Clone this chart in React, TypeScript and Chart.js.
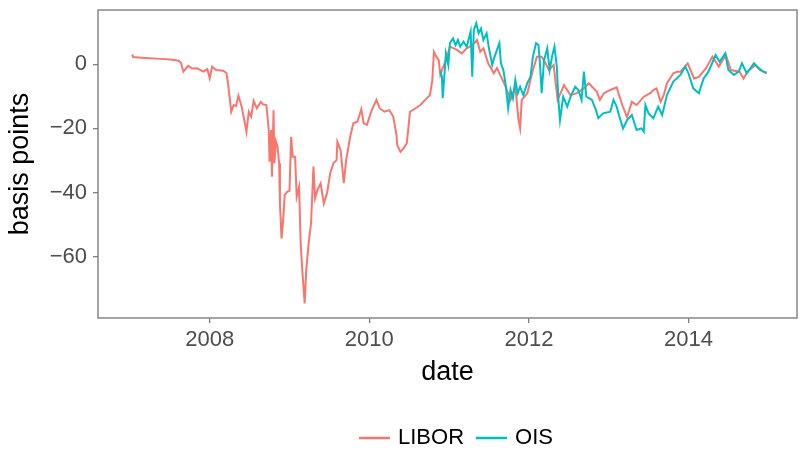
import React, { useEffect, useRef } from "react";
import { Chart, registerables } from "chart.js";

Chart.register(...registerables);

const liborDates = [
  2007.03, 2007.04, 2007.19, 2007.38, 2007.51, 2007.61, 2007.64, 2007.67, 2007.73, 2007.78,
  2007.84, 2007.92, 2007.97, 2008.0, 2008.03, 2008.08, 2008.17, 2008.21, 2008.23, 2008.27,
  2008.3, 2008.33, 2008.36, 2008.4, 2008.43, 2008.46, 2008.49, 2008.52, 2008.55, 2008.59,
  2008.64, 2008.67, 2008.71, 2008.74, 2008.75, 2008.77, 2008.78, 2008.8, 2008.81, 2008.83,
  2008.85, 2008.87, 2008.88, 2008.9, 2008.92, 2008.94, 2008.97, 2009.0, 2009.02, 2009.04,
  2009.07, 2009.09, 2009.12, 2009.14, 2009.16, 2009.19, 2009.21, 2009.24, 2009.27, 2009.3,
  2009.32, 2009.35, 2009.39, 2009.43, 2009.47, 2009.51, 2009.55, 2009.59, 2009.6, 2009.64,
  2009.68, 2009.71, 2009.76, 2009.8, 2009.85, 2009.9, 2009.93, 2009.97, 2010.03, 2010.09,
  2010.13, 2010.19, 2010.25, 2010.3, 2010.34, 2010.35, 2010.39, 2010.43, 2010.47, 2010.51,
  2010.58, 2010.64, 2010.7, 2010.76, 2010.79, 2010.81, 2010.84, 2010.87, 2010.89, 2010.91,
  2010.97, 2011.01, 2011.1, 2011.16, 2011.22, 2011.29, 2011.35, 2011.39, 2011.43, 2011.49,
  2011.56, 2011.6, 2011.64, 2011.7, 2011.77, 2011.83, 2011.87, 2011.89, 2011.91, 2011.98,
  2012.04, 2012.1, 2012.16, 2012.21, 2012.25, 2012.31, 2012.36, 2012.44, 2012.48, 2012.52,
  2012.6, 2012.69, 2012.75, 2012.85, 2012.89, 2012.94, 2013.02, 2013.1, 2013.17, 2013.23,
  2013.29, 2013.35, 2013.44, 2013.52, 2013.56, 2013.6, 2013.65, 2013.69, 2013.73, 2013.81,
  2013.86, 2013.9, 2013.99, 2014.07, 2014.13, 2014.22, 2014.3, 2014.38, 2014.47, 2014.53,
  2014.64, 2014.69, 2014.74, 2014.84, 2014.9, 2014.98,
];
const liborBasisPoints = [
  3.1, 2.3, 2.0, 1.7, 1.5, 1.1, 0.5, -2.3, -0.5, -1.3,
  -1.2, -2.3, -1.5, -4.3, -0.7, -1.8, -2.0, -2.7, -6, -14.8,
  -12.7, -13, -9.8, -13.2, -17, -21, -14.8, -16.3, -11.4, -13.7,
  -11.7, -12.5, -12.7, -20.5, -30.4, -20.5, -35.1, -14.3, -30.9, -24,
  -25.7, -30.9, -43.4, -54.3, -48.6, -40.8, -39.8, -39.5, -22.6, -28.8,
  -28.8, -41.3, -38.2, -55.8, -64.2, -74.6, -64.2, -55.8, -49.6, -31.9,
  -41.8, -39.2, -37.1, -43.4, -40.2, -34, -30.9, -29.9, -24.1, -26.7,
  -37.1, -29.9, -22.6, -18.4, -17.9, -14, -18.4, -18.9, -14.3, -11.1,
  -13.7, -14.8, -14.3, -16.3, -22, -25.2, -27.3, -26.2, -24.6, -14.8,
  -13.7, -12.7, -11.1, -9.6, -4.9, 3.9, 2.4, 1.3, -3.3, -1.8,
  1.9, 5.5, 4.5, 3.4, 5, 6, 7.6, 3.9, 5, 0.3,
  -2.8, -1.2, -3.3, -6.5, -11.1, -7, -17.4, -20, -11.1, -9,
  -2.8, 2.4, 2.4, 0.3, -1.8, -0.2, -11.1, -6.5, -8, -9.6,
  -9, -7.5, -5.9, -8.5, -11.1, -9, -8, -7.2, -12.7, -16.5,
  -11.7, -12.7, -10.1, -9, -8, -7.5, -11.7, -9.6, -5.9, -2.8,
  -2.3, -2.3, 0.3, -4.4, -3.9, -1.2, 2.4, -0.7, 2.9, -1.8,
  -2.3, -4.4, -2.3, -0.2, -1.8, -2.8,
];

const oisDates = [
  2010.89, 2010.91, 2010.92, 2010.94, 2010.96, 2010.99, 2011.01, 2011.05, 2011.08, 2011.11,
  2011.14, 2011.18, 2011.22, 2011.27, 2011.29, 2011.31, 2011.34, 2011.37, 2011.4, 2011.43,
  2011.47, 2011.5, 2011.54, 2011.57, 2011.6, 2011.63, 2011.65, 2011.68, 2011.71, 2011.74,
  2011.77, 2011.8, 2011.83, 2011.86, 2011.89, 2011.93, 2011.98, 2012.02, 2012.05, 2012.09,
  2012.12, 2012.14, 2012.16, 2012.19, 2012.23, 2012.26, 2012.29, 2012.32, 2012.35, 2012.37,
  2012.39, 2012.43, 2012.48, 2012.53, 2012.58, 2012.62, 2012.66, 2012.69, 2012.72, 2012.79,
  2012.84, 2012.87, 2012.93, 2013.02, 2013.06, 2013.1, 2013.14, 2013.18, 2013.23, 2013.29,
  2013.35, 2013.41, 2013.44, 2013.46, 2013.5, 2013.56, 2013.62, 2013.67, 2013.73, 2013.81,
  2013.9, 2013.96, 2014.0, 2014.06, 2014.13, 2014.19, 2014.25, 2014.34, 2014.39, 2014.46,
  2014.5, 2014.57, 2014.63, 2014.67, 2014.73, 2014.82, 2014.88, 2014.94, 2014.98,
];
const oisBasisPoints = [
  -2, -3.9, -10.6, -3.9, 3.4, -0.2, 6.6, 8.1, 6, 7.6,
  5.5, 7.1, 5.5, 10.2, -3.9, 10.7, 12.8, 9.7, 11.2, 7.6,
  9.7, 5, -0.2, 2.4, 4.5, 6.6, 0.3, -1.8, -6.5, -13.7,
  -8, -10.6, -4.9, -9, -7, -9.6, -5.9, -3.9, 2.4, 6.6,
  6, -0.2, -9, 1.3, 5, -1.8, 2.4, 5.5, -0.7, -11.1,
  -17.4, -10.1, -13.2, -9.6, -7, -8, -11.1, -2.3, -10.1, -11.1,
  -14.3, -16.8, -15.3, -14.8, -11.1, -13.2, -16.8, -20, -17.4, -15.8,
  -20.5, -20, -21, -12.7, -15.3, -16.8, -13.2, -15.8, -9.6, -5.4,
  -3.3, -0.7, -2.8, -7.5, -9, -4.4, -2.3, 2.9, 0.8, 3.4,
  -1.8, -3.3, -2.3, 0.3, -2.8, 0.3, -1.2, -2.3, -2.6,
];

const xTickYears = [2008, 2010, 2012, 2014];
const yTickValues = [-60, -40, -20, 0];
const seriesNames = ["LIBOR", "OIS"];
const seriesColors = ["#F8766D", "#00BFC4"];
const xAxisTitle = "date";
const yAxisTitle = "basis points";

const FONT = "'Liberation Sans', Arial, Helvetica, sans-serif";

export default function App() {
  const ref = useRef<HTMLCanvasElement | null>(null);

  useEffect(() => {
    document.body.style.margin = "0";
    const canvas = ref.current;
    if (!canvas) return;

    const framePlugin = {
      id: "frameAndLegend",
      afterDraw(chart: any) {
        const { ctx, chartArea: a } = chart;
        ctx.save();
        ctx.strokeStyle = "#7F7F7F";
        ctx.lineWidth = 1.4;
        ctx.strokeRect(a.left, a.top, a.right - a.left, a.bottom - a.top);

        // legend
        ctx.font = `22px ${FONT}`;
        ctx.textBaseline = "middle";
        ctx.textAlign = "left";
        const ly = 438;
        let x = 359;
        seriesNames.forEach((name, i) => {
          ctx.strokeStyle = seriesColors[i];
          ctx.lineWidth = 2.5;
          ctx.beginPath();
          ctx.moveTo(x, ly);
          ctx.lineTo(x + 31, ly);
          ctx.stroke();
          ctx.fillStyle = "#000000";
          ctx.fillText(name, x + 39, ly);
          x += 39 + ctx.measureText(name).width + 12;
        });
        ctx.restore();
      },
    };

    const chart = new Chart(canvas, {
      type: "line",
      data: {
        datasets: [
          {
            label: seriesNames[0],
            data: liborDates.map((d, i) => ({ x: d, y: liborBasisPoints[i] })),
            borderColor: seriesColors[0],
            backgroundColor: seriesColors[0],
            borderWidth: 2,
            pointRadius: 0,
            tension: 0,
            order: 2,
          },
          {
            label: seriesNames[1],
            data: oisDates.map((d, i) => ({ x: d, y: oisBasisPoints[i] })),
            borderColor: seriesColors[1],
            backgroundColor: seriesColors[1],
            borderWidth: 2,
            pointRadius: 0,
            tension: 0,
            order: 1,
          },
        ],
      },
      options: {
        animation: false,
        responsive: false,
        devicePixelRatio: 1,
        layout: { padding: { top: 10, right: 6, left: 0, bottom: 57 } },
        plugins: {
          legend: { display: false },
          tooltip: { enabled: false },
        },
        scales: {
          x: {
            type: "linear",
            min: 2006.6,
            max: 2015.36,
            afterBuildTicks: (scale: any) => {
              scale.ticks = xTickYears.map((v) => ({ value: v }));
            },
            afterFit: (scale: any) => {
              scale.height = 75;
              scale.paddingLeft = 0;
              scale.paddingRight = 0;
            },
            grid: {
              drawOnChartArea: false,
              drawTicks: true,
              tickLength: 5,
              color: "#7F7F7F",
              lineWidth: 1.3,
            },
            border: { display: false },
            ticks: {
              color: "#4D4D4D",
              font: { family: FONT, size: 22 },
              padding: 4,
              maxRotation: 0,
              autoSkip: false,
              callback: (v: any) => String(v),
            },
            title: {
              display: true,
              text: xAxisTitle,
              color: "#000000",
              font: { family: FONT, size: 27 },
              padding: { top: 0, bottom: 4 },
            },
          },
          y: {
            type: "linear",
            min: -79.15,
            max: 16.95,
            afterBuildTicks: (scale: any) => {
              scale.ticks = yTickValues.map((v) => ({ value: v }));
            },
            afterFit: (scale: any) => {
              scale.width = 98;
              scale.paddingTop = 0;
              scale.paddingBottom = 0;
            },
            grid: {
              drawOnChartArea: false,
              drawTicks: true,
              tickLength: 5,
              color: "#7F7F7F",
              lineWidth: 1.3,
            },
            border: { display: false },
            ticks: {
              color: "#4D4D4D",
              font: { family: FONT, size: 22 },
              padding: 6,
              autoSkip: false,
              callback: (v: any) => (v < 0 ? "\u2212" + Math.abs(v) : String(v)),
            },
            title: {
              display: true,
              text: yAxisTitle,
              color: "#000000",
              font: { family: FONT, size: 27 },
              padding: { top: 4, bottom: 0 },
            },
          },
        },
      },
      plugins: [framePlugin],
    });

    return () => chart.destroy();
  }, []);

  return (
    <div style={{ position: "absolute", left: 0, top: 0, width: 803, height: 450 }}>
      <canvas ref={ref} width={803} height={450} style={{ width: 803, height: 450 }} />
    </div>
  );
}
